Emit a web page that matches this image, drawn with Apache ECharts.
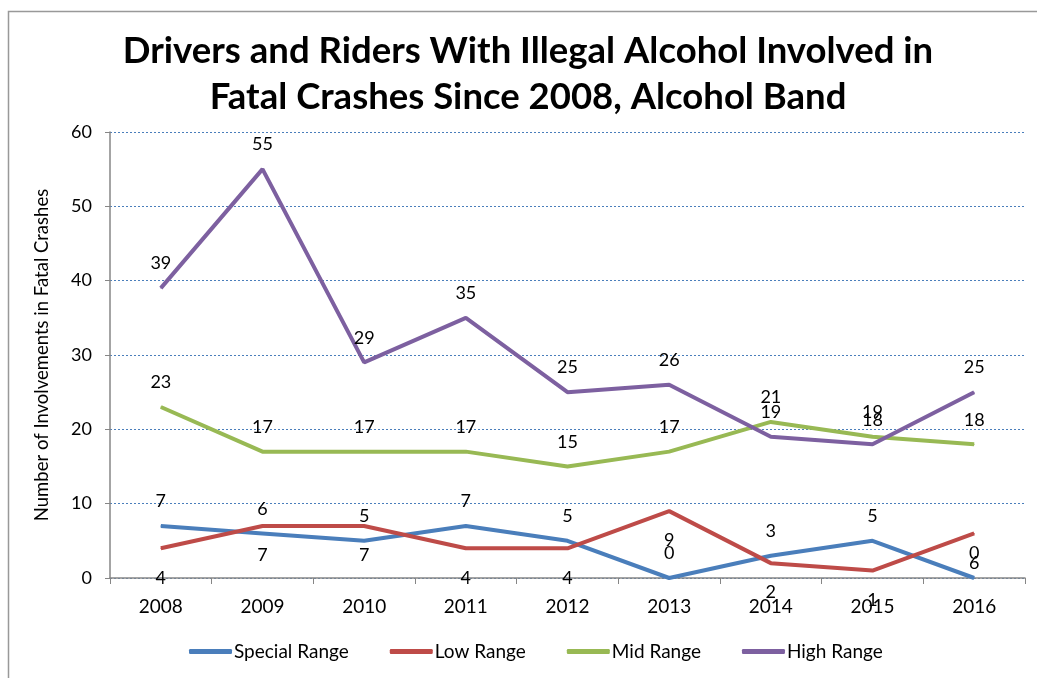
<!DOCTYPE html>
<html><head><meta charset="utf-8">
<script src="https://cdn.jsdelivr.net/npm/echarts@6/dist/echarts.min.js"></script>
<style>html,body{margin:0;padding:0;background:#fff}#c{width:1037px;height:678px}</style>
</head><body><div id="c"></div>
<script>
const years = ['2008','2009','2010','2011','2012','2013','2014','2015','2016'];
const specialRange = [7, 6, 5, 7, 5, 0, 3, 5, 0];
const lowRange = [4, 7, 7, 4, 4, 9, 2, 1, 6];
const midRange = [23, 17, 17, 17, 15, 17, 21, 19, 18];
const highRange = [39, 55, 29, 35, 25, 26, 19, 18, 25];
const seriesNames = ['Special Range', 'Low Range', 'Mid Range', 'High Range'];
const colors = ['#4A7EBB', '#BE4B48', '#98B954', '#7D60A0'];

const FONT = 'Lato';
const chart = echarts.init(document.getElementById('c'));
function mk(name, data, color, pos) {
  return {
    name: name, type: 'line', data: data,
    symbol: 'circle', symbolSize: 1,
    itemStyle: { color: color },
    lineStyle: { width: 4, color: color },
    label: { show: true, position: pos, distance: pos === 'bottom' ? 20 : 15, color: '#000', fontFamily: FONT, fontSize: 18 },
    emphasis: { disabled: true },
    animation: false
  };
}
chart.setOption({
  animation: false,
  color: colors,
  textStyle: { fontFamily: FONT },
  title: {
    text: 'Drivers and Riders With Illegal Alcohol Involved in\nFatal Crashes Since 2008, Alcohol Band',
    left: 523, top: 23, textAlign: 'center',
    textStyle: { fontFamily: FONT, fontWeight: 'bold', fontSize: 36.5, lineHeight: 46, color: '#000' }
  },
  graphic: [{
    type: 'rect', shape: { x: 8.5, y: 11.5, width: 1100, height: 800 },
    style: { fill: 'none', stroke: '#999', lineWidth: 1.5 }, silent: true, z: -1
  }],
  legend: {
    data: seriesNames, bottom: 12, left: 184,
    icon: 'roundRect', itemWidth: 43, itemHeight: 5, itemGap: 41,
    textStyle: { fontFamily: FONT, fontSize: 19, color: '#000', padding: [0, 0, 0, -3] }
  },
  grid: { left: 110, right: 12, top: 132, bottom: 100, containLabel: false },
  xAxis: {
    type: 'category', data: years, boundaryGap: true,
    axisLine: { lineStyle: { color: '#868686', width: 1.5 } },
    axisTick: { show: true, length: 6, lineStyle: { color: '#868686' } },
    axisLabel: { color: '#000', fontFamily: FONT, fontSize: 19, margin: 19 }
  },
  yAxis: {
    type: 'value', min: 0, max: 60, interval: 10,
    name: 'Number of Involvements in Fatal Crashes', nameLocation: 'middle', nameGap: 58,
    nameTextStyle: { color: '#000', fontFamily: FONT, fontSize: 18.5 },
    axisLine: { show: true, lineStyle: { color: '#868686', width: 1.5 } },
    axisTick: { show: true, length: 5, lineStyle: { color: '#868686' } },
    axisLabel: { color: '#000', fontFamily: FONT, fontSize: 18, margin: 18 },
    splitLine: { lineStyle: { color: '#4A7EBB', type: [2, 2], width: 1 } }
  },
  series: [
    mk(seriesNames[0], specialRange, colors[0], 'top'),
    mk(seriesNames[1], lowRange, colors[1], 'bottom'),
    mk(seriesNames[2], midRange, colors[2], 'top'),
    mk(seriesNames[3], highRange, colors[3], 'top')
  ]
});
</script></body></html>
